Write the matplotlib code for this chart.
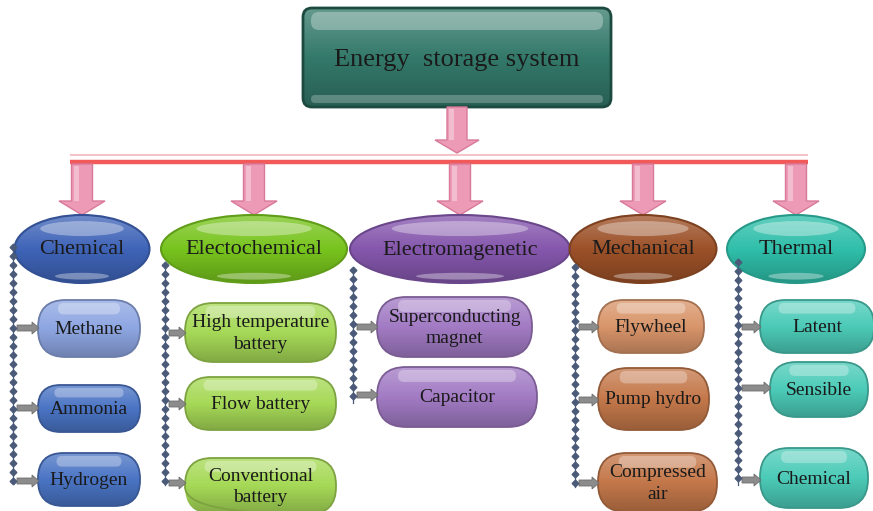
import matplotlib
matplotlib.use("Agg")
import matplotlib.pyplot as plt
from matplotlib.patches import Ellipse, FancyBboxPatch, Polygon
from matplotlib.colors import to_rgb
import numpy as np

# ---- content ----
title = "Energy  storage system"
categories = ["Chemical", "Electochemical", "Electromagenetic", "Mechanical", "Thermal"]
children = [
    ["Methane", "Ammonia", "Hydrogen"],
    ["High temperature\nbattery", "Flow battery", "Conventional\nbattery"],
    ["Superconducting\nmagnet", "Capacitor"],
    ["Flywheel", "Pump hydro", "Compressed\nair"],
    ["Latent", "Sensible", "Chemical"],
]

# ---- layout (pixels) ----
cat_cx = [82, 254, 460, 643, 796]
cat_w = [135, 186, 220, 147, 138]
cat_cy, cat_h = 249, 68
cat_colors = ["#3f64b8", "#78c41e", "#8557ad", "#9c5128", "#2fbfaa"]
child_colors = [
    ["#8ea6e2", "#4a74c4", "#4a74c4"],
    ["#a6d957", "#a6d957", "#a6d957"],
    ["#a27bc4", "#a27bc4"],
    ["#d9956a", "#c4784a", "#c4784a"],
    ["#4ccbb8", "#4ccbb8", "#4ccbb8"],
]
child_boxes = [
    [(38, 140, 300, 357), (38, 140, 385, 432), (38, 140, 453, 506)],
    [(185, 336, 303, 362), (185, 336, 377, 430), (185, 336, 458, 514)],
    [(377, 532, 297, 357), (377, 537, 367, 427)],
    [(598, 704, 300, 353), (598, 709, 368, 430), (598, 717, 453, 512)],
    [(760, 874, 300, 353), (770, 868, 362, 417), (760, 868, 448, 508)],
]
arrow_y = [
    [328, 408, 481],
    [333, 404, 483],
    [327, 395],
    [327, 400, 483],
    [327, 388, 480],
]
spine_x = [13, 165, 353, 575, 738]
spine_y = [(247, 482), (265, 485), (270, 403), (267, 487), (262, 485)]

W, H = 873, 511
fig = plt.figure(figsize=(W / 100, H / 100), dpi=100)
ax = fig.add_axes([0, 0, 1, 1])
ax.axis("off")

SERIF = ["Liberation Serif", "DejaVu Serif"]


def mix(c, t, target=(1, 1, 1)):
    c = np.array(to_rgb(c))
    return tuple(c * (1 - t) + np.array(target) * t)


def grad_patch(patch, color, x0, x1, y0, y1, edge, lw=1.5, z=2):
    ax.add_patch(patch)
    patch.set_facecolor("none")
    patch.set_edgecolor(edge)
    patch.set_linewidth(lw)
    patch.set_zorder(z + 0.5)
    top = np.array(mix(color, 0.25))
    mid = np.array(to_rgb(color))
    bot = np.array(mix(color, 0.22, (0, 0, 0)))
    t = np.linspace(0, 1, 200)[:, None]
    col = np.where(t < 0.5, top + (mid - top) * (t / 0.5), mid + (bot - mid) * ((t - 0.5) / 0.5))
    img = col[:, None, :].repeat(2, axis=1)
    im = ax.imshow(img, extent=[x0, x1, y1, y0], aspect="auto", zorder=z,
                   interpolation="bilinear")
    im.set_clip_path(patch)


def pink_arrow(cx, ytop, ytip, shaft=20, head=44, headlen=13):
    pts = [(cx - shaft / 2, ytop), (cx + shaft / 2, ytop), (cx + shaft / 2, ytip - headlen),
           (cx + head / 2, ytip - headlen), (cx, ytip), (cx - head / 2, ytip - headlen),
           (cx - shaft / 2, ytip - headlen)]
    ax.add_patch(Polygon(pts, closed=True, facecolor="#ec9ab5", edgecolor="#d9799a",
                         lw=1, zorder=3))
    ax.add_patch(Polygon([(cx - shaft / 2 + 2, ytop + 2), (cx - shaft / 2 + 7, ytop + 2),
                          (cx - shaft / 2 + 7, ytip - headlen), (cx - shaft / 2 + 2, ytip - headlen)],
                         closed=True, facecolor="white", alpha=0.35, lw=0, zorder=3.2))


# ---- top box ----
bx0, bx1, by0, by1 = 303, 611, 8, 107
top = FancyBboxPatch((bx0, by0), bx1 - bx0, by1 - by0,
                     boxstyle="round,pad=0,rounding_size=9")
grad_patch(top, "#33796a", bx0, bx1, by0, by1, "#1c4a3f", lw=2)
ax.add_patch(FancyBboxPatch((bx0 + 8, by0 + 4), bx1 - bx0 - 16, 18,
                            boxstyle="round,pad=0,rounding_size=8",
                            facecolor="white", alpha=0.3, lw=0, zorder=3))
ax.add_patch(FancyBboxPatch((bx0 + 8, by1 - 12), bx1 - bx0 - 16, 8,
                            boxstyle="round,pad=0,rounding_size=4",
                            facecolor="white", alpha=0.25, lw=0, zorder=3))
ax.text((bx0 + bx1) / 2, 60, title, ha="center", va="center", fontsize=19,
        family=SERIF, color="#1a1a1a", zorder=4)

# ---- connector ----
pink_arrow(457, by1, 153)
ax.plot([70, 808], [155, 155], color="#f4c4c8", lw=1.5, zorder=2, solid_capstyle="butt")
ax.plot([70, 808], [162, 162], color="#f25a5a", lw=3.2, zorder=2, solid_capstyle="butt")

# ---- categories ----
for i, name in enumerate(categories):
    cx, w = cat_cx[i], cat_w[i]
    pink_arrow(cx, 164, 215, shaft=21, head=46, headlen=14)
    e = Ellipse((cx, cat_cy), w, cat_h)
    grad_patch(e, cat_colors[i], cx - w / 2, cx + w / 2, cat_cy - cat_h / 2, cat_cy + cat_h / 2,
               mix(cat_colors[i], 0.2, (0, 0, 0)), lw=1.5, z=4)
    ax.add_patch(Ellipse((cx, cat_cy - cat_h * 0.3), w * 0.62, cat_h * 0.22,
                         facecolor="white", alpha=0.35, lw=0, zorder=5))
    ax.add_patch(Ellipse((cx, cat_cy + cat_h * 0.4), w * 0.4, cat_h * 0.1,
                         facecolor="white", alpha=0.35, lw=0, zorder=5))
    ax.text(cx, cat_cy + 1, name, ha="center", va="center", fontsize=16,
            family=SERIF, color="#1a1a1a", zorder=6)

    # dotted spine
    sx = spine_x[i]
    ys0, ys1 = spine_y[i]
    dots = np.arange(ys0, ys1 + 1, 9)
    ax.plot([sx, sx], [ys0, ys1], color="#4a5a78", lw=0.9, zorder=6)
    ax.plot(np.full(len(dots), sx), dots,
            ls="none", marker="D", ms=3.4, color="#4a5a78", zorder=6)

    # children
    for j, lab in enumerate(children[i]):
        x0, x1, y0, y1 = child_boxes[i][j]
        h = y1 - y0
        p = FancyBboxPatch((x0, y0), x1 - x0, h,
                           boxstyle=f"round,pad=0,rounding_size={h / 2 - 1}")
        col = child_colors[i][j]
        grad_patch(p, col, x0, x1, y0, y1, mix(col, 0.25, (0, 0, 0)), lw=1.3, z=4)
        ax.add_patch(FancyBboxPatch((x0 + h * 0.35, y0 + 3), x1 - x0 - h * 0.7, h * 0.2,
                                    boxstyle=f"round,pad=0,rounding_size={h * 0.1}",
                                    facecolor="white", alpha=0.3, lw=0, zorder=5))
        ax.text((x0 + x1) / 2, (y0 + y1) / 2 + 1, lab, ha="center", va="center",
                fontsize=14, family=SERIF, color="#1a1a1a", zorder=6, linespacing=1.35)
        # small grey arrow
        ay = arrow_y[i][j]
        ax0, ax1 = sx + 4, x0 + 1
        ax.add_patch(Polygon([(ax0, ay - 3), (ax1 - 7, ay - 3), (ax1 - 7, ay - 6), (ax1, ay),
                              (ax1 - 7, ay + 6), (ax1 - 7, ay + 3), (ax0, ay + 3)],
                             closed=True, facecolor="#8c8c8c", edgecolor="#6e6e6e",
                             lw=0.6, zorder=5.5))

ax.set_xlim(0, W)
ax.set_ylim(H, 0)
fig.savefig("out.png", dpi=100, facecolor="white")
